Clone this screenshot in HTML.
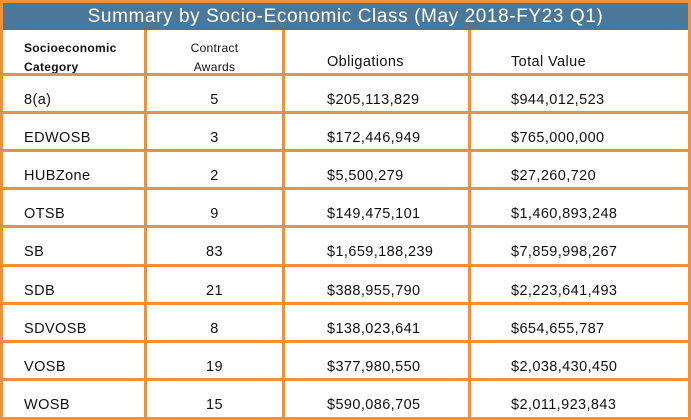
<!DOCTYPE html>
<html><head><meta charset="utf-8"><style>
body{margin:0;width:691px;height:420px;background:#fff;overflow:hidden;font-family:"Liberation Sans",sans-serif;}
#wrap{position:absolute;left:0;top:0;width:685px;height:414px;border:3px solid #f0913f;background:#fff;}
#title{position:absolute;left:0;top:0;width:685px;height:27px;background:#4b7898;color:#fff;font-size:19px;text-align:center;line-height:27px;letter-spacing:0.6px;}
.vl{position:absolute;top:27px;width:3px;height:387px;background:#f0913f;}
.hl{position:absolute;left:0;width:685px;height:3px;background:#f0913f;}
.c{position:absolute;font-size:14.5px;letter-spacing:0.4px;color:#111;white-space:nowrap;}
.h{font-size:12px;letter-spacing:0.3px;}
</style></head><body>
<div id="wrap">
<div id="title">Summary by Socio-Economic Class (May 2018-FY23 Q1)</div>
<div class="vl" style="left:141px"></div>
<div class="vl" style="left:279px"></div>
<div class="vl" style="left:465px"></div>
<div class="c h" style="left:21px;top:36px;font-weight:bold;line-height:19px">Socioeconomic<br>Category</div>
<div class="c h" style="left:144px;width:135px;text-align:center;top:36px;line-height:19px">Contract<br>Awards</div>
<div class="c" style="left:324px;top:51px">Obligations</div>
<div class="c" style="left:508px;top:51px">Total Value</div>
<div id="rows"></div>
</div>
<script>
const categories=["8(a)","EDWOSB","HUBZone","OTSB","SB","SDB","SDVOSB","VOSB","WOSB"];
const awards=[5,3,2,9,83,21,8,19,15];
const obligations=["$205,113,829","$172,446,949","$5,500,279","$149,475,101","$1,659,188,239","$388,955,790","$138,023,641","$377,980,550","$590,086,705"];
const totals=["$944,012,523","$765,000,000","$27,260,720","$1,460,893,248","$7,859,998,267","$2,223,641,493","$654,655,787","$2,038,430,450","$2,011,923,843"];
const w=document.getElementById('wrap');
categories.forEach((cat,i)=>{
  const top=70+i*38.1;
  const l=document.createElement('div');l.className='hl';l.style.top=top+'px';
  
  
  w.appendChild(l);
  const ty=top+19;
  const mk=(txt,left,name,center)=>{const d=document.createElement('div');d.className='c';d.textContent=txt;d.style.top=ty+'px';
    if(center){d.style.left='144px';d.style.width='135px';d.style.textAlign='center';}else d.style.left=left+'px';
    
    
    w.appendChild(d);};
  mk(cat,21,'category-cell');
  mk(String(awards[i]),0,'awards-cell',true);
  mk(obligations[i],324,'obligations-cell');
  mk(totals[i],508,'total-value-cell');
});
</script>
</body></html>
